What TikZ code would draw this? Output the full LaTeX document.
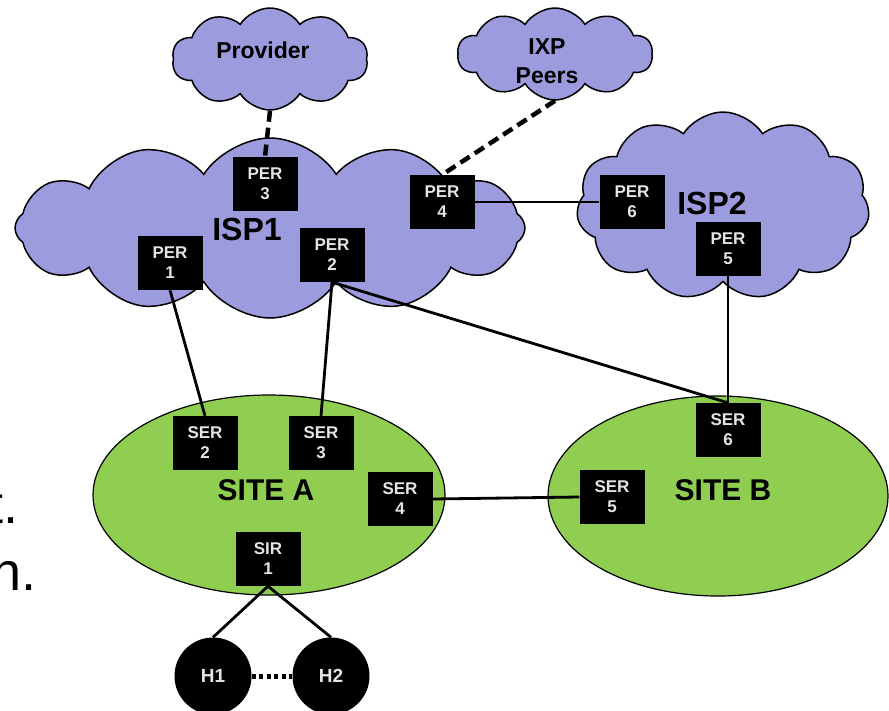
\documentclass[tikz,border=0pt]{standalone}
\usepackage{fontspec}
\setmainfont{Liberation Sans}
\usetikzlibrary{shapes.symbols,shapes.geometric}
\definecolor{cloudfill}{RGB}{155,155,221}
\definecolor{sitefill}{RGB}{143,206,80}
\definecolor{boxtext}{RGB}{228,228,228}

\tikzset{
  netcloud/.style={cloud, cloud puffs=#1, cloud puff arc=115, draw=black,
    line width=1.5pt, fill=cloudfill, inner sep=0pt},
  router/.style={fill=black, minimum width=65pt, minimum height=54pt,
    inner sep=0pt, text=boxtext, align=center,
    font=\bfseries\fontsize{17}{20}\selectfont},
  site/.style={ellipse, draw=black, line width=1.2pt, fill=sitefill, inner sep=0pt},
  host/.style={circle, fill=black, minimum size=77pt, inner sep=0pt,
    text=boxtext, font=\bfseries\fontsize{19}{21}\selectfont},
  cloudlabel/.style={font=\bfseries\fontsize{23}{29}\selectfont, align=center, inner sep=0pt},
  biglabel/.style={font=\bfseries\fontsize{32}{34}\selectfont, inner sep=0pt},
  sitelabel/.style={font=\bfseries\fontsize{30}{32}\selectfont, inner sep=0pt},
  link/.style={line width=2.8pt},
  peerlink/.style={line width=4.5pt, dash pattern=on 11pt off 6pt},
  hostdots/.style={line width=5pt, dash pattern=on 4pt off 3.5pt},
  slidetext/.style={font=\fontsize{54}{60}\selectfont, inner sep=0pt},
}

\begin{document}
\begin{tikzpicture}[x=1pt,y=-1pt]
\useasboundingbox (0,0) rectangle (889,710);
\clip (0,0) rectangle (889,710);

% stray slide text at the left margin
\node[slidetext, anchor=base east] (txtt) at (19,523) {t.};
\node[slidetext, anchor=base east] (txtn) at (37,590) {n.};

% clouds
\node[netcloud=12, aspect=2.83, minimum width=510pt, minimum height=180pt] (isp1) at (270,228) {};
\node[netcloud=11, aspect=1.56, minimum width=293pt, minimum height=188pt] (isp2) at (723,206) {};
\node[netcloud=10, aspect=1.92, minimum width=196pt, minimum height=102pt] (prov) at (270,59) {};
\node[netcloud=10, aspect=2.12, minimum width=195pt, minimum height=92pt] (ixp) at (555,54) {};

% sites
\node[site, minimum width=352pt, minimum height=200pt] (sitea) at (269,495) {};
\node[site, minimum width=340pt, minimum height=200pt] (siteb) at (718,496) {};

% labels
\node[cloudlabel] (provtxt) at (263,50) {Provider};
\node[cloudlabel] (ixptxt) at (547,61) {IXP\\Peers};
\node[biglabel] (isp1txt) at (247,229) {ISP1};
\node[biglabel] (isp2txt) at (712,203) {ISP2};
\node[sitelabel] (sitea txt) at (266,490) {SITE A};
\node[sitelabel] (siteb txt) at (723,490) {SITE B};

% routers
\node[router] (per3) at (265,184) {PER\\3};
\node[router] (per1) at (170,263) {PER\\1};
\node[router] (per2) at (332,255) {PER\\2};
\node[router] (per4) at (442,202) {PER\\4};
\node[router] (per6) at (632,202) {PER\\6};
\node[router] (per5) at (728,249) {PER\\5};
\node[router] (ser2) at (205,443) {SER\\2};
\node[router] (ser3) at (321,443) {SER\\3};
\node[router] (ser4) at (400,499) {SER\\4};
\node[router] (ser5) at (612,497) {SER\\5};
\node[router] (ser6) at (728,430) {SER\\6};
\node[router] (sir1) at (268,559) {SIR\\1};

% hosts
\node[host] (h1) at (213,676) {H1};
\node[host] (h2) at (331,676) {H2};

% peering links
\draw[peerlink] (prov.south) -- (per3.north);
\draw[peerlink] (ixp.south) -- (per4.north);

% links
\draw[link] (per4.east) -- (per6.west);
\draw[link] (per1.south) -- (ser2.north);
\draw[link] (per2.south) -- (ser3.north);
\draw[link] (per2.south) -- (ser6.north);
\draw[link] (per5.south) -- (ser6.north);
\draw[link] (ser4.east) -- (ser5.west);
\draw[link] (sir1.south) -- (h1.north);
\draw[link] (sir1.south) -- (h2.north);
\draw[hostdots] (h1.east) -- (h2.west);
\end{tikzpicture}
\end{document}
